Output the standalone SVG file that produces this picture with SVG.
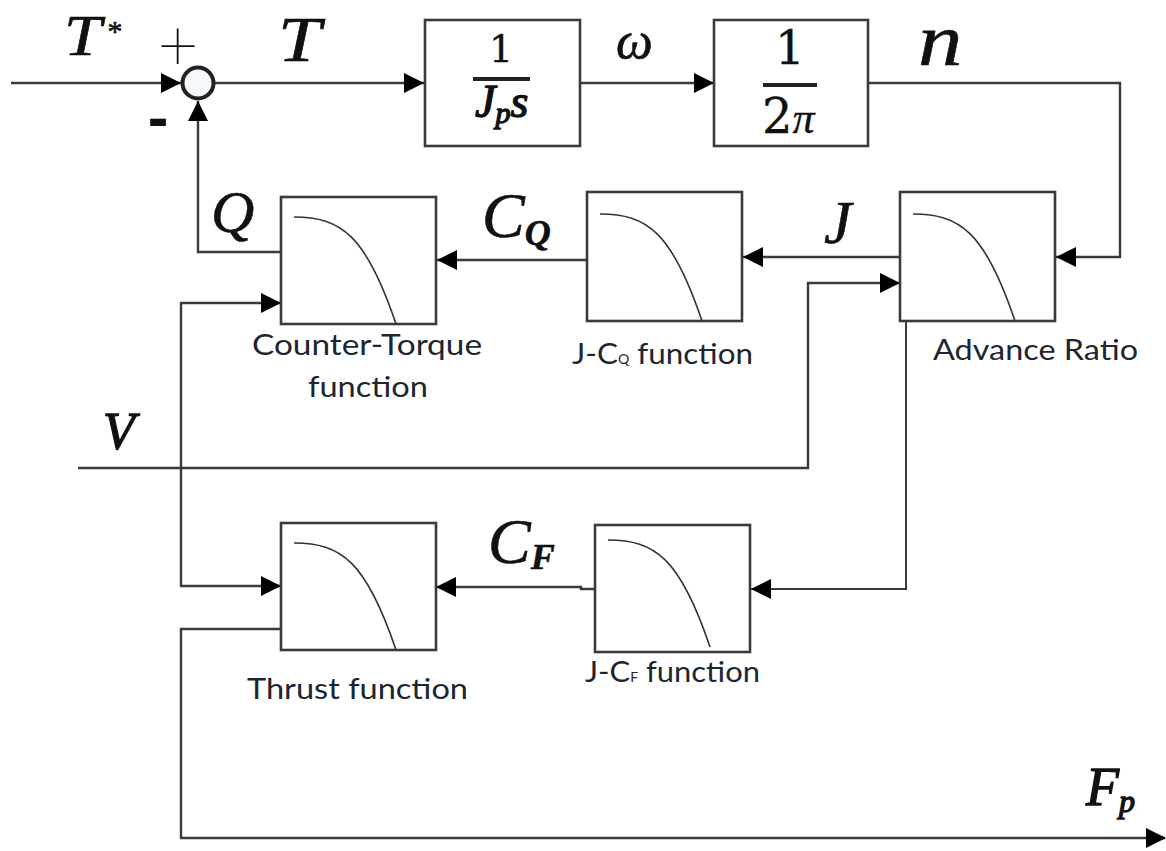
<svg xmlns="http://www.w3.org/2000/svg" width="1166" height="851" viewBox="0 0 1166 851">
<style>
.box{fill:#fff;stroke:#3a3a3a;stroke-width:2.6}
.c{fill:none;stroke:#333;stroke-width:1.6}
.w{fill:none;stroke:#3a3a3a;stroke-width:2.4}
.bar{stroke:#222;stroke-width:4}
.m{font-family:"Liberation Serif",serif;font-style:italic;fill:#111;stroke:#111;stroke-width:.6}
.h{stroke-width:1.3}
.r{font-family:"DejaVu Serif",serif;fill:#111;stroke:#111;stroke-width:.3}
.l{font-family:Lato,"Liberation Sans",sans-serif;font-size:29px;fill:#1c2530}
</style>
<defs>
<marker id="a" markerUnits="userSpaceOnUse" markerWidth="20" markerHeight="22" refX="20" refY="11" orient="auto"><path d="M0 1 20 11 0 21z" fill="#000"/></marker>
<g id="curve"><path class="c" d="M13 22C60 22 85 40 115 129"/></g>
</defs>
<rect width="1166" height="851" fill="#fff"/>
<g id="connectors">
<path class="w" d="M11 83H181" marker-end="url(#a)"/>
<path class="w" d="M214 83H424" marker-end="url(#a)"/>
<path class="w" d="M580 83H714" marker-end="url(#a)"/>
<path class="w" d="M868 83H1120V257H1056" marker-end="url(#a)"/>
<path class="w" d="M900 257H743" marker-end="url(#a)"/>
<path class="w" d="M587 260H437" marker-end="url(#a)"/>
<path class="w" d="M281 252H198V101" marker-end="url(#a)"/>
<path class="w" d="M78 468H808V283H900" marker-end="url(#a)"/>
<path class="w" d="M281 303H181V586H281" marker-end="url(#a)"/>
<path d="M261 293 281 303 261 313z" fill="#000"/>
<path class="w" d="M906 321V589H751" marker-end="url(#a)" style="stroke-width:2"/>
<path class="w" d="M595 589H581V587H436" marker-end="url(#a)"/>
<path class="w" d="M281 629H181V838H1165"/>
<path d="M1146 828 1166 838 1146 848z" fill="#000"/>
</g>
<g id="sum">
<circle cx="198" cy="83" r="15.5" fill="#f5f8fc" stroke="#222" stroke-width="4"/>
<text x="178" y="69" font-family="Roboto,sans-serif" font-weight="100" font-size="68" text-anchor="middle" fill="#111">+</text>
<text x="158" y="138" font-family="Liberation Sans,sans-serif" font-weight="700" font-size="62" text-anchor="middle" fill="#111">-</text>
</g>
<g id="inertia">
<rect class="box" x="425" y="20" width="155" height="126"/>
<text class="r" x="501" y="62" font-size="38" text-anchor="middle">1</text>
<line class="bar" x1="473" y1="79" x2="530" y2="79"/>
<text class="m h" x="475" y="117" font-size="46">J<tspan font-size="30" dy="6">p</tspan><tspan dy="-6">s</tspan></text>
</g>
<g id="gain">
<rect class="box" x="714" y="20" width="154" height="126"/>
<text class="r" x="790" y="64" font-size="47" text-anchor="middle">1</text>
<line class="bar" x1="763" y1="85" x2="817" y2="85"/>
<text class="r" x="762" y="133" font-size="48">2<tspan font-family="Liberation Serif,serif" font-style="italic" font-size="44">π</tspan></text>
</g>
<g id="counter-torque">
<rect class="box" x="281" y="197" width="155" height="127"/>
<use href="#curve" x="281" y="195"/>
<text class="l" x="252" y="355" textLength="230" lengthAdjust="spacingAndGlyphs">Counter-Torque</text>
<text class="l" x="308" y="397" textLength="120" lengthAdjust="spacingAndGlyphs">function</text>
</g>
<g id="j-cq">
<rect class="box" x="587" y="192" width="155" height="129"/>
<use href="#curve" x="587" y="192"/>
<text class="l" x="572" y="364" textLength="181" lengthAdjust="spacingAndGlyphs">J-C<tspan font-size="13">Q</tspan> function</text>
</g>
<g id="advance-ratio">
<rect class="box" x="900" y="192" width="155" height="129"/>
<use href="#curve" x="900" y="192"/>
<text class="l" x="933" y="360" textLength="205" lengthAdjust="spacingAndGlyphs">Advance Ratio</text>
</g>
<g id="thrust">
<rect class="box" x="281" y="523" width="155" height="127"/>
<use href="#curve" x="281" y="521"/>
<text class="l" x="247" y="699" textLength="221" lengthAdjust="spacingAndGlyphs">Thrust function</text>
</g>
<g id="j-cf">
<rect class="box" x="595" y="525" width="155" height="127"/>
<use href="#curve" x="595" y="518"/>
<text class="l" x="585" y="682" textLength="175" lengthAdjust="spacingAndGlyphs">J-C<tspan font-size="13">F</tspan> function</text>
</g>
<g id="labels">
<text class="m" transform="translate(64 55) scale(1.2 1)" font-size="56">T</text>
<text class="m" x="106" y="41" font-size="30" font-style="normal">*</text>
<text class="m" transform="translate(278 61) scale(1.2 1)" font-size="64">T</text>
<text class="m" x="616" y="58" font-size="52">ω</text>
<text class="m" transform="translate(918 65) scale(1.2 1)" font-size="74">n</text>
<text class="m" x="211" y="232" font-size="60">Q</text>
<text class="m" x="482" y="237" font-size="64">C<tspan font-size="36" dy="8" font-weight="700">Q</tspan></text>
<text class="m" x="824" y="243" font-size="62">J</text>
<text class="m h" x="103" y="449" font-size="52">V</text>
<text class="m" x="488" y="563" font-size="64">C<tspan font-size="36" dy="6" font-weight="700">F</tspan></text>
<text class="m h" x="1086" y="805" font-size="54">F<tspan font-size="32" dy="7">p</tspan></text>
</g>
</svg>
